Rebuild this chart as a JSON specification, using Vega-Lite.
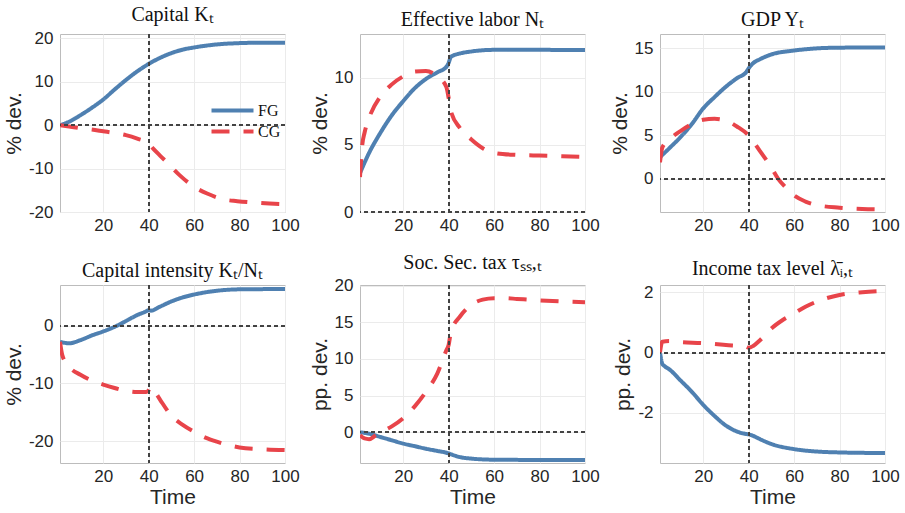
{
  "$schema": "https://vega.github.io/schema/vega-lite/v6.json",
  "padding": {"left": 2, "top": 4, "right": 8, "bottom": 0},
  "background": "white",
  "datasets": {
    "d": [
      {"p":1,"s":"FG","t":1,"v":0},{"p":1,"s":"FG","t":5,"v":0.8},{"p":1,"s":"FG","t":10,"v":2.3},{"p":1,"s":"FG","t":15,"v":4.0},{"p":1,"s":"FG","t":20,"v":5.9},{"p":1,"s":"FG","t":25,"v":8.2},{"p":1,"s":"FG","t":30,"v":10.4},{"p":1,"s":"FG","t":35,"v":12.4},{"p":1,"s":"FG","t":40,"v":14.1},{"p":1,"s":"FG","t":45,"v":15.5},{"p":1,"s":"FG","t":50,"v":16.6},{"p":1,"s":"FG","t":55,"v":17.4},{"p":1,"s":"FG","t":60,"v":17.9},{"p":1,"s":"FG","t":65,"v":18.3},{"p":1,"s":"FG","t":70,"v":18.6},{"p":1,"s":"FG","t":80,"v":18.9},{"p":1,"s":"FG","t":90,"v":19.0},{"p":1,"s":"FG","t":100,"v":19.0},
      {"p":1,"s":"CG","t":1,"v":0},{"p":1,"s":"CG","t":5,"v":-0.3},{"p":1,"s":"CG","t":10,"v":-0.7},{"p":1,"s":"CG","t":15,"v":-1.0},{"p":1,"s":"CG","t":20,"v":-1.4},{"p":1,"s":"CG","t":25,"v":-1.8},{"p":1,"s":"CG","t":30,"v":-2.3},{"p":1,"s":"CG","t":35,"v":-3.1},{"p":1,"s":"CG","t":40,"v":-4.2},{"p":1,"s":"CG","t":42,"v":-5.4},{"p":1,"s":"CG","t":45,"v":-7.0},{"p":1,"s":"CG","t":48.5,"v":-8.8},{"p":1,"s":"CG","t":53.6,"v":-11.5},{"p":1,"s":"CG","t":60,"v":-14.2},{"p":1,"s":"CG","t":66,"v":-15.8},{"p":1,"s":"CG","t":73,"v":-17.1},{"p":1,"s":"CG","t":79,"v":-17.5},{"p":1,"s":"CG","t":88,"v":-17.9},{"p":1,"s":"CG","t":100,"v":-18.2},

      {"p":2,"s":"FG","t":1,"v":2.9},{"p":2,"s":"FG","t":5,"v":4.4},{"p":2,"s":"FG","t":10,"v":5.9},{"p":2,"s":"FG","t":15,"v":7.2},{"p":2,"s":"FG","t":20,"v":8.25},{"p":2,"s":"FG","t":25,"v":9.2},{"p":2,"s":"FG","t":30,"v":9.9},{"p":2,"s":"FG","t":35,"v":10.4},{"p":2,"s":"FG","t":39,"v":10.8},{"p":2,"s":"FG","t":40,"v":11.1},{"p":2,"s":"FG","t":41,"v":11.55},{"p":2,"s":"FG","t":45,"v":11.8},{"p":2,"s":"FG","t":50,"v":11.95},{"p":2,"s":"FG","t":60,"v":12.07},{"p":2,"s":"FG","t":80,"v":12.07},{"p":2,"s":"FG","t":100,"v":12.05},
      {"p":2,"s":"CG","t":1,"v":2.6},{"p":2,"s":"CG","t":2,"v":5.0},{"p":2,"s":"CG","t":3,"v":5.9},{"p":2,"s":"CG","t":5,"v":7.0},{"p":2,"s":"CG","t":10,"v":8.6},{"p":2,"s":"CG","t":15,"v":9.5},{"p":2,"s":"CG","t":20,"v":10.1},{"p":2,"s":"CG","t":25,"v":10.45},{"p":2,"s":"CG","t":30,"v":10.5},{"p":2,"s":"CG","t":35,"v":10.1},{"p":2,"s":"CG","t":39,"v":9.3},{"p":2,"s":"CG","t":40,"v":8.5},{"p":2,"s":"CG","t":41,"v":7.5},{"p":2,"s":"CG","t":45,"v":6.25},{"p":2,"s":"CG","t":50,"v":5.4},{"p":2,"s":"CG","t":55,"v":4.75},{"p":2,"s":"CG","t":60,"v":4.4},{"p":2,"s":"CG","t":70,"v":4.25},{"p":2,"s":"CG","t":80,"v":4.2},{"p":2,"s":"CG","t":90,"v":4.15},{"p":2,"s":"CG","t":100,"v":4.1},

      {"p":3,"s":"FG","t":1,"v":2.5},{"p":3,"s":"FG","t":5,"v":3.5},{"p":3,"s":"FG","t":10,"v":4.8},{"p":3,"s":"FG","t":15,"v":6.3},{"p":3,"s":"FG","t":20,"v":8.1},{"p":3,"s":"FG","t":25,"v":9.4},{"p":3,"s":"FG","t":30,"v":10.6},{"p":3,"s":"FG","t":35,"v":11.6},{"p":3,"s":"FG","t":39,"v":12.3},{"p":3,"s":"FG","t":40,"v":12.7},{"p":3,"s":"FG","t":42,"v":13.3},{"p":3,"s":"FG","t":45,"v":13.75},{"p":3,"s":"FG","t":50,"v":14.3},{"p":3,"s":"FG","t":60,"v":14.75},{"p":3,"s":"FG","t":70,"v":15.0},{"p":3,"s":"FG","t":80,"v":15.08},{"p":3,"s":"FG","t":100,"v":15.1},
      {"p":3,"s":"CG","t":1,"v":1.9},{"p":3,"s":"CG","t":2,"v":3.6},{"p":3,"s":"CG","t":5,"v":4.5},{"p":3,"s":"CG","t":10,"v":5.5},{"p":3,"s":"CG","t":15,"v":6.3},{"p":3,"s":"CG","t":20,"v":6.8},{"p":3,"s":"CG","t":25,"v":6.9},{"p":3,"s":"CG","t":30,"v":6.7},{"p":3,"s":"CG","t":35,"v":6.0},{"p":3,"s":"CG","t":40,"v":5.0},{"p":3,"s":"CG","t":45,"v":3.2},{"p":3,"s":"CG","t":50,"v":1.3},{"p":3,"s":"CG","t":53,"v":0},{"p":3,"s":"CG","t":56,"v":-0.9},{"p":3,"s":"CG","t":60,"v":-1.9},{"p":3,"s":"CG","t":65,"v":-2.6},{"p":3,"s":"CG","t":70,"v":-3.0},{"p":3,"s":"CG","t":80,"v":-3.3},{"p":3,"s":"CG","t":90,"v":-3.45},{"p":3,"s":"CG","t":100,"v":-3.5},

      {"p":4,"s":"FG","t":1,"v":-2.8},{"p":4,"s":"FG","t":5,"v":-3.05},{"p":4,"s":"FG","t":10,"v":-2.5},{"p":4,"s":"FG","t":15,"v":-1.7},{"p":4,"s":"FG","t":20,"v":-1.0},{"p":4,"s":"FG","t":25,"v":-0.2},{"p":4,"s":"FG","t":30,"v":0.8},{"p":4,"s":"FG","t":35,"v":1.85},{"p":4,"s":"FG","t":39,"v":2.5},{"p":4,"s":"FG","t":40,"v":2.7},{"p":4,"s":"FG","t":41,"v":2.6},{"p":4,"s":"FG","t":45,"v":3.3},{"p":4,"s":"FG","t":50,"v":4.2},{"p":4,"s":"FG","t":55,"v":4.9},{"p":4,"s":"FG","t":60,"v":5.4},{"p":4,"s":"FG","t":70,"v":6.05},{"p":4,"s":"FG","t":80,"v":6.3},{"p":4,"s":"FG","t":100,"v":6.35},
      {"p":4,"s":"CG","t":1,"v":-2.8},{"p":4,"s":"CG","t":2,"v":-5.1},{"p":4,"s":"CG","t":5,"v":-7.1},{"p":4,"s":"CG","t":10,"v":-8.5},{"p":4,"s":"CG","t":15,"v":-9.5},{"p":4,"s":"CG","t":20,"v":-10.2},{"p":4,"s":"CG","t":25,"v":-10.8},{"p":4,"s":"CG","t":30,"v":-11.3},{"p":4,"s":"CG","t":35,"v":-11.5},{"p":4,"s":"CG","t":39,"v":-11.5},{"p":4,"s":"CG","t":40,"v":-11.2},{"p":4,"s":"CG","t":41,"v":-10.6},{"p":4,"s":"CG","t":43,"v":-11.6},{"p":4,"s":"CG","t":45,"v":-12.8},{"p":4,"s":"CG","t":50,"v":-15.6},{"p":4,"s":"CG","t":55,"v":-17.2},{"p":4,"s":"CG","t":60,"v":-18.4},{"p":4,"s":"CG","t":65,"v":-19.4},{"p":4,"s":"CG","t":70,"v":-20.1},{"p":4,"s":"CG","t":80,"v":-21.1},{"p":4,"s":"CG","t":90,"v":-21.4},{"p":4,"s":"CG","t":100,"v":-21.55},

      {"p":5,"s":"FG","t":1,"v":0},{"p":5,"s":"FG","t":5,"v":-0.2},{"p":5,"s":"FG","t":10,"v":-0.65},{"p":5,"s":"FG","t":15,"v":-1.1},{"p":5,"s":"FG","t":20,"v":-1.55},{"p":5,"s":"FG","t":25,"v":-1.9},{"p":5,"s":"FG","t":30,"v":-2.25},{"p":5,"s":"FG","t":35,"v":-2.55},{"p":5,"s":"FG","t":39,"v":-2.8},{"p":5,"s":"FG","t":40,"v":-2.9},{"p":5,"s":"FG","t":45,"v":-3.4},{"p":5,"s":"FG","t":50,"v":-3.6},{"p":5,"s":"FG","t":60,"v":-3.75},{"p":5,"s":"FG","t":80,"v":-3.78},{"p":5,"s":"FG","t":100,"v":-3.78},
      {"p":5,"s":"CG","t":1,"v":-0.4},{"p":5,"s":"CG","t":3,"v":-0.85},{"p":5,"s":"CG","t":5,"v":-0.95},{"p":5,"s":"CG","t":8,"v":-0.4},{"p":5,"s":"CG","t":12,"v":0.3},{"p":5,"s":"CG","t":15,"v":0.8},{"p":5,"s":"CG","t":20,"v":1.9},{"p":5,"s":"CG","t":25,"v":3.5},{"p":5,"s":"CG","t":30,"v":5.5},{"p":5,"s":"CG","t":35,"v":8.0},{"p":5,"s":"CG","t":39,"v":11.2},{"p":5,"s":"CG","t":40,"v":11.9},{"p":5,"s":"CG","t":41,"v":13.7},{"p":5,"s":"CG","t":45,"v":15.8},{"p":5,"s":"CG","t":50,"v":17.4},{"p":5,"s":"CG","t":55,"v":18.1},{"p":5,"s":"CG","t":60,"v":18.3},{"p":5,"s":"CG","t":65,"v":18.3},{"p":5,"s":"CG","t":70,"v":18.2},{"p":5,"s":"CG","t":80,"v":18.0},{"p":5,"s":"CG","t":90,"v":17.85},{"p":5,"s":"CG","t":100,"v":17.75},

      {"p":6,"s":"FG","t":1,"v":0},{"p":6,"s":"FG","t":2,"v":-0.37},{"p":6,"s":"FG","t":3,"v":-0.45},{"p":6,"s":"FG","t":5,"v":-0.55},{"p":6,"s":"FG","t":10,"v":-0.92},{"p":6,"s":"FG","t":15,"v":-1.3},{"p":6,"s":"FG","t":20,"v":-1.73},{"p":6,"s":"FG","t":25,"v":-2.1},{"p":6,"s":"FG","t":30,"v":-2.42},{"p":6,"s":"FG","t":35,"v":-2.62},{"p":6,"s":"FG","t":39,"v":-2.7},{"p":6,"s":"FG","t":40,"v":-2.71},{"p":6,"s":"FG","t":42,"v":-2.76},{"p":6,"s":"FG","t":45,"v":-2.87},{"p":6,"s":"FG","t":50,"v":-3.03},{"p":6,"s":"FG","t":60,"v":-3.2},{"p":6,"s":"FG","t":70,"v":-3.28},{"p":6,"s":"FG","t":80,"v":-3.31},{"p":6,"s":"FG","t":100,"v":-3.33},
      {"p":6,"s":"CG","t":1,"v":0},{"p":6,"s":"CG","t":2,"v":0.36},{"p":6,"s":"CG","t":5,"v":0.38},{"p":6,"s":"CG","t":10,"v":0.35},{"p":6,"s":"CG","t":20,"v":0.31},{"p":6,"s":"CG","t":30,"v":0.25},{"p":6,"s":"CG","t":39,"v":0.19},{"p":6,"s":"CG","t":40,"v":0.16},{"p":6,"s":"CG","t":42,"v":0.22},{"p":6,"s":"CG","t":45,"v":0.41},{"p":6,"s":"CG","t":50,"v":0.8},{"p":6,"s":"CG","t":55,"v":1.08},{"p":6,"s":"CG","t":60,"v":1.3},{"p":6,"s":"CG","t":65,"v":1.52},{"p":6,"s":"CG","t":70,"v":1.69},{"p":6,"s":"CG","t":80,"v":1.91},{"p":6,"s":"CG","t":90,"v":2.0},{"p":6,"s":"CG","t":100,"v":2.04}
    ]
  },
  "columns": 3,
  "spacing": {"row": 73, "column": 75},
  "bounds": "flush",
  "concat": [
    {"width":225,"height":178,"title":"Capital Kₜ","data":{"name":"d"},"layer":[
      {"transform":[{"filter":"datum.p==1"}],"mark":{"type":"line","strokeWidth":4,"clip":true,"interpolate":"monotone"},
       "encoding":{"x":{"field":"t","type":"quantitative","scale":{"domain":[1,100],"nice":false,"zero":false},"axis":{"values":[20,40,60,80,100],"title":null}},
        "y":{"field":"v","type":"quantitative","scale":{"domain":[-20,21],"nice":false,"zero":false},"axis":{"values":[-20,-10,0,10,20],"title":"% dev."}},
        "color":{"field":"s","type":"nominal","title":null,"scale":{"domain":["FG","CG"],"range":["#4f80b1","#e8444a"]}},
        "strokeDash":{"field":"s","type":"nominal","title":null,"scale":{"domain":["FG","CG"],"range":[[1,0],[18,14]]}}}},
      {"mark":{"type":"rule","strokeDash":[4,3],"color":"#444","strokeWidth":1},"encoding":{"y":{"datum":0}}},
      {"mark":{"type":"rule","strokeDash":[4,3],"color":"#444","strokeWidth":1},"encoding":{"x":{"datum":40}}}
    ]},
    {"width":225,"height":178,"title":"Effective labor Nₜ","data":{"name":"d"},"layer":[
      {"transform":[{"filter":"datum.p==2"}],"mark":{"type":"line","strokeWidth":4,"clip":true,"interpolate":"monotone"},
       "encoding":{"x":{"field":"t","type":"quantitative","scale":{"domain":[1,100],"nice":false,"zero":false},"axis":{"values":[20,40,60,80,100],"title":null}},
        "y":{"field":"v","type":"quantitative","scale":{"domain":[0,13.25],"nice":false,"zero":false},"axis":{"values":[0,5,10],"title":"% dev."}},
        "color":{"field":"s","type":"nominal","title":null,"scale":{"domain":["FG","CG"],"range":["#4f80b1","#e8444a"]}},
        "strokeDash":{"field":"s","type":"nominal","title":null,"scale":{"domain":["FG","CG"],"range":[[1,0],[18,14]]}}}},
      {"mark":{"type":"rule","strokeDash":[4,3],"color":"#444","strokeWidth":1},"encoding":{"y":{"datum":0}}},
      {"mark":{"type":"rule","strokeDash":[4,3],"color":"#444","strokeWidth":1},"encoding":{"x":{"datum":40}}}
    ]},
    {"width":225,"height":178,"title":"GDP Yₜ","data":{"name":"d"},"layer":[
      {"transform":[{"filter":"datum.p==3"}],"mark":{"type":"line","strokeWidth":4,"clip":true,"interpolate":"monotone"},
       "encoding":{"x":{"field":"t","type":"quantitative","scale":{"domain":[1,100],"nice":false,"zero":false},"axis":{"values":[20,40,60,80,100],"title":null}},
        "y":{"field":"v","type":"quantitative","scale":{"domain":[-3.8,16.65],"nice":false,"zero":false},"axis":{"values":[0,5,10,15],"title":"% dev."}},
        "color":{"field":"s","type":"nominal","title":null,"scale":{"domain":["FG","CG"],"range":["#4f80b1","#e8444a"]}},
        "strokeDash":{"field":"s","type":"nominal","title":null,"scale":{"domain":["FG","CG"],"range":[[1,0],[18,14]]}}}},
      {"mark":{"type":"rule","strokeDash":[4,3],"color":"#444","strokeWidth":1},"encoding":{"y":{"datum":0}}},
      {"mark":{"type":"rule","strokeDash":[4,3],"color":"#444","strokeWidth":1},"encoding":{"x":{"datum":40}}}
    ]},
    {"width":225,"height":178,"title":"Capital intensity Kₜ/Nₜ","data":{"name":"d"},"layer":[
      {"transform":[{"filter":"datum.p==4"}],"mark":{"type":"line","strokeWidth":4,"clip":true,"interpolate":"monotone"},
       "encoding":{"x":{"field":"t","type":"quantitative","scale":{"domain":[1,100],"nice":false,"zero":false},"axis":{"values":[20,40,60,80,100],"title":"Time"}},
        "y":{"field":"v","type":"quantitative","scale":{"domain":[-23.8,7.05],"nice":false,"zero":false},"axis":{"values":[-20,-10,0],"title":"% dev."}},
        "color":{"field":"s","type":"nominal","title":null,"scale":{"domain":["FG","CG"],"range":["#4f80b1","#e8444a"]}},
        "strokeDash":{"field":"s","type":"nominal","title":null,"scale":{"domain":["FG","CG"],"range":[[1,0],[18,14]]}}}},
      {"mark":{"type":"rule","strokeDash":[4,3],"color":"#444","strokeWidth":1},"encoding":{"y":{"datum":0}}},
      {"mark":{"type":"rule","strokeDash":[4,3],"color":"#444","strokeWidth":1},"encoding":{"x":{"datum":40}}}
    ]},
    {"width":225,"height":178,"title":"Soc. Sec. tax τₛₛ,ₜ","data":{"name":"d"},"layer":[
      {"transform":[{"filter":"datum.p==5"}],"mark":{"type":"line","strokeWidth":4,"clip":true,"interpolate":"monotone"},
       "encoding":{"x":{"field":"t","type":"quantitative","scale":{"domain":[1,100],"nice":false,"zero":false},"axis":{"values":[20,40,60,80,100],"title":"Time"}},
        "y":{"field":"v","type":"quantitative","scale":{"domain":[-4.2,20.1],"nice":false,"zero":false},"axis":{"values":[0,5,10,15,20],"title":"pp. dev."}},
        "color":{"field":"s","type":"nominal","title":null,"scale":{"domain":["FG","CG"],"range":["#4f80b1","#e8444a"]}},
        "strokeDash":{"field":"s","type":"nominal","title":null,"scale":{"domain":["FG","CG"],"range":[[1,0],[18,14]]}}}},
      {"mark":{"type":"rule","strokeDash":[4,3],"color":"#444","strokeWidth":1},"encoding":{"y":{"datum":0}}},
      {"mark":{"type":"rule","strokeDash":[4,3],"color":"#444","strokeWidth":1},"encoding":{"x":{"datum":40}}}
    ]},
    {"width":225,"height":178,"title":"Income tax level λ̄ᵢ,ₜ","data":{"name":"d"},"layer":[
      {"transform":[{"filter":"datum.p==6"}],"mark":{"type":"line","strokeWidth":4,"clip":true,"interpolate":"monotone"},
       "encoding":{"x":{"field":"t","type":"quantitative","scale":{"domain":[1,100],"nice":false,"zero":false},"axis":{"values":[20,40,60,80,100],"title":"Time"}},
        "y":{"field":"v","type":"quantitative","scale":{"domain":[-3.66,2.24],"nice":false,"zero":false},"axis":{"values":[-2,0,2],"title":"pp. dev."}},
        "color":{"field":"s","type":"nominal","title":null,"scale":{"domain":["FG","CG"],"range":["#4f80b1","#e8444a"]}},
        "strokeDash":{"field":"s","type":"nominal","title":null,"scale":{"domain":["FG","CG"],"range":[[1,0],[18,14]]}}}},
      {"mark":{"type":"rule","strokeDash":[4,3],"color":"#444","strokeWidth":1},"encoding":{"y":{"datum":0}}},
      {"mark":{"type":"rule","strokeDash":[4,3],"color":"#444","strokeWidth":1},"encoding":{"x":{"datum":40}}}
    ]}
  ],
  "config": {
    "font": "Liberation Sans",
    "view": {"stroke": "#bcbcbc", "strokeWidth": 1},
    "title": {"font": "Liberation Serif", "fontSize": 20, "fontWeight": "normal", "color": "#111", "offset": 4},
    "axis": {"domain": false, "ticks": false, "grid": true, "gridColor": "#ebebeb", "labelFontSize": 17, "labelColor": "#262626", "labelPadding": 5, "titleFontSize": 21, "titleFontWeight": "normal", "titleColor": "#262626", "titlePadding": 2, "labelFlush": false, "labelExpr": "replace(datum.label, '−', '-')"},
    "axisY": {"labelPadding": 7, "titlePadding": 4},
    "legend": {"orient": "none", "legendX": 160, "legendY": 64, "symbolType": "M-2,0L2,0", "symbolSize": 441, "symbolStrokeWidth": 4, "labelFont": "Liberation Serif", "labelFontSize": 16, "labelColor": "#111", "rowPadding": 0, "labelOffset": 13, "padding": 0}
  }
}
